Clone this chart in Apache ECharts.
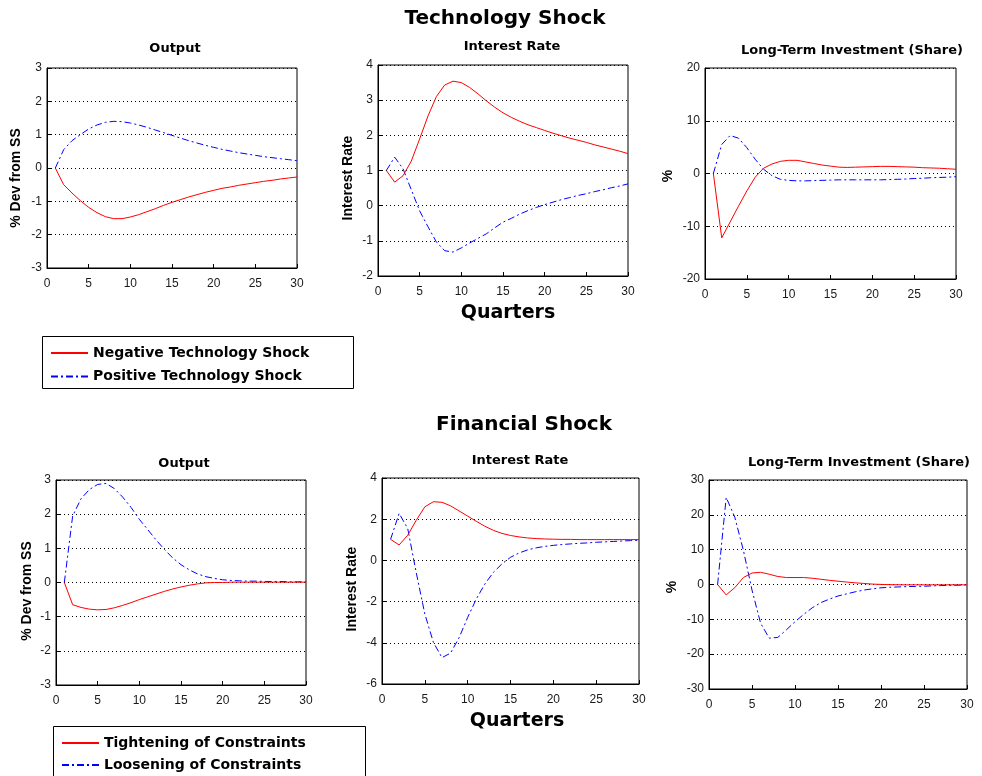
<!DOCTYPE html>
<html>
<head>
<meta charset="utf-8">
<script src="https://cdn.jsdelivr.net/npm/echarts@6/dist/echarts.min.js"></script>
<style>
html,body{margin:0;padding:0;background:#fff;}
#chart{width:982px;height:776px;}
</style>
</head>
<body>
<div id="chart"></div>
<script>
const quarters = [1,2,3,4,5,6,7,8,9,10,11,12,13,14,15,16,17,18,19,20,21,22,23,24,25,26,27,28,29,30];

// Technology shock
const techOutputNeg = [0,-0.5,-0.75,-0.98,-1.18,-1.34,-1.46,-1.52,-1.52,-1.47,-1.40,-1.31,-1.22,-1.12,-1.03,-0.95,-0.87,-0.80,-0.73,-0.67,-0.61,-0.57,-0.52,-0.48,-0.44,-0.40,-0.37,-0.33,-0.30,-0.27];
const techOutputPos = [0,0.55,0.82,1.0,1.17,1.29,1.37,1.40,1.39,1.35,1.29,1.22,1.14,1.06,0.98,0.90,0.82,0.75,0.68,0.62,0.56,0.51,0.46,0.42,0.38,0.34,0.31,0.28,0.25,0.22];
const techRateNeg = [1.0,0.67,0.85,1.27,1.9,2.55,3.1,3.43,3.54,3.5,3.36,3.18,2.98,2.8,2.64,2.51,2.4,2.3,2.22,2.14,2.06,1.99,1.92,1.86,1.8,1.73,1.67,1.61,1.55,1.48];
const techRatePos = [1.0,1.38,1.05,0.45,-0.15,-0.6,-1.03,-1.28,-1.32,-1.2,-1.06,-0.93,-0.8,-0.63,-0.47,-0.36,-0.24,-0.14,-0.05,0.03,0.1,0.17,0.23,0.29,0.34,0.4,0.45,0.51,0.56,0.62];
const techLtiNeg = [0,-12.2,-9.2,-6.2,-3.3,-0.7,1.0,1.8,2.3,2.5,2.5,2.2,1.9,1.6,1.4,1.2,1.15,1.2,1.25,1.3,1.35,1.35,1.3,1.25,1.2,1.1,1.05,1.0,0.9,0.8];
const techLtiPos = [0,5.5,7.2,6.7,4.9,2.7,0.8,-0.4,-1.1,-1.3,-1.4,-1.4,-1.35,-1.3,-1.25,-1.2,-1.2,-1.2,-1.2,-1.2,-1.2,-1.15,-1.1,-1.05,-0.95,-0.9,-0.8,-0.75,-0.7,-0.6];

// Financial shock
const finOutputTight = [0,-0.65,-0.73,-0.78,-0.8,-0.79,-0.74,-0.67,-0.59,-0.5,-0.42,-0.34,-0.26,-0.19,-0.13,-0.08,-0.04,-0.01,0,0,0.01,0.01,0.01,0.01,0.01,0.01,0.01,0.01,0.01,0.01];
const finOutputLoose = [0,1.95,2.45,2.72,2.87,2.9,2.75,2.5,2.2,1.85,1.55,1.25,0.97,0.72,0.52,0.37,0.25,0.17,0.12,0.08,0.06,0.05,0.04,0.04,0.03,0.03,0.03,0.02,0.02,0.02];
const finRateTight = [1.02,0.75,1.22,1.95,2.6,2.85,2.82,2.65,2.4,2.15,1.9,1.66,1.46,1.31,1.21,1.14,1.09,1.06,1.04,1.03,1.02,1.02,1.01,1.01,1.01,1.01,1.01,1.01,1.01,1.01];
const finRateLoose = [1.02,2.28,1.55,-0.6,-2.6,-3.98,-4.72,-4.5,-3.75,-2.77,-1.88,-1.15,-0.58,-0.17,0.15,0.36,0.51,0.61,0.68,0.73,0.77,0.8,0.83,0.85,0.88,0.9,0.92,0.94,0.96,0.98];
const finLtiTight = [0,-3.0,-0.9,2.0,3.3,3.5,2.95,2.3,2.0,2.0,2.0,1.8,1.5,1.2,0.95,0.7,0.48,0.3,0.12,0.02,-0.05,-0.08,-0.1,-0.1,-0.1,-0.1,-0.1,-0.1,-0.1,-0.1];
const finLtiLoose = [0,25,19.3,9.8,-1.6,-11.1,-15.4,-15.2,-13.0,-10.7,-8.6,-6.7,-5.2,-4.2,-3.3,-2.7,-2.1,-1.6,-1.25,-0.95,-0.8,-0.7,-0.6,-0.55,-0.5,-0.4,-0.3,-0.25,-0.2,-0.1];

// Axis ranges [min, max, interval]
const xRange = [0, 30, 5];
const yRanges = [[-3,3,1],[-2,4,1],[-20,20,10],[-3,3,1],[-6,4,2],[-30,30,10]];

const panelTitles = ['Output','Interest Rate','Long-Term Investment (Share)','Output','Interest Rate','Long-Term Investment (Share)'];
const yNames = ['% Dev from SS','Interest Rate','%','% Dev from SS','Interest Rate','%'];
const seriesNames = ['Negative Technology Shock','Positive Technology Shock','Tightening of Constraints','Loosening of Constraints'];

const panelData = [
  [techOutputNeg, techOutputPos],
  [techRateNeg, techRatePos],
  [techLtiNeg, techLtiPos],
  [finOutputTight, finOutputLoose],
  [finRateTight, finRateLoose],
  [finLtiTight, finLtiLoose]
];

// layout (pixels)
const grids = [
  {left:47, top:68, width:250, height:200},
  {left:378, top:65, width:250, height:211},
  {left:705, top:68, width:251, height:211},
  {left:56, top:480, width:250, height:205},
  {left:382, top:478, width:257, height:206},
  {left:709, top:480, width:258, height:209}
];
const titlePos = [[175,49],[512,47],[852,51],[184,464],[520,461],[859,463]];
const yNamePos = [[16,178],[348,178],[668,176],[27,591],[352,589],[672,587]];

const BOLD = 'DejaVu Sans';
const tickFont = {fontFamily:'Arial', fontSize:12, color:'#1a1a1a'};

const option = {
  animation:false,
  backgroundColor:'#fff',
  grid: grids.map(g => Object.assign({show:true, borderColor:'#000', borderWidth:1, backgroundColor:'transparent', containLabel:false}, g)),
  xAxis: grids.map((g,i) => ({
    type:'value', gridIndex:i, min:xRange[0], max:xRange[1], interval:xRange[2],
    axisLine:{show:true, onZero:false, lineStyle:{color:'#000', width:1}},
    axisTick:{show:true, inside:true, length:4, lineStyle:{color:'#000'}},
    axisLabel:Object.assign({margin:10, showMinLabel:true, showMaxLabel:true}, tickFont),
    splitLine:{show:false}
  })),
  yAxis: grids.map((g,i) => ({
    type:'value', gridIndex:i, min:yRanges[i][0], max:yRanges[i][1], interval:yRanges[i][2],
    axisLine:{show:true, onZero:false, lineStyle:{color:'#000', width:1}},
    axisTick:{show:true, inside:true, length:4, lineStyle:{color:'#000'}},
    axisLabel:Object.assign({margin:5, showMinLabel:true, showMaxLabel:true}, tickFont),
    splitLine:{show:true, lineStyle:{color:'#000', type:[1,3], width:1}}
  })),
  legend: [
    {orient:'vertical', left:50, top:346, itemWidth:37, itemHeight:14, itemGap:9.5, padding:0,
     selectedMode:false, data:[seriesNames[0], seriesNames[1]], itemStyle:{opacity:0},
     textStyle:{fontFamily:BOLD, fontWeight:'bold', fontSize:14, color:'#000'}},
    {orient:'vertical', left:61, top:736, itemWidth:37, itemHeight:14, itemGap:8, padding:0,
     selectedMode:false, data:[seriesNames[2], seriesNames[3]], itemStyle:{opacity:0},
     textStyle:{fontFamily:BOLD, fontWeight:'bold', fontSize:14, color:'#000'}}
  ],
  series: [],
  graphic: []
};

panelData.forEach((pair, i) => {
  const tech = i < 3;
  const names = tech ? [seriesNames[0], seriesNames[1]] : [seriesNames[2], seriesNames[3]];
  option.series.push({
    type:'line', name:names[1], xAxisIndex:i, yAxisIndex:i, symbol:'none', showSymbol:false,
    data: quarters.map((q,k) => [q, pair[1][k]]),
    lineStyle:{color:'#0000ff', width:1, type:[7,3,2,3]}, itemStyle:{color:'#0000ff'}, z:3
  });
  option.series.push({
    type:'line', name:names[0], xAxisIndex:i, yAxisIndex:i, symbol:'none', showSymbol:false,
    data: quarters.map((q,k) => [q, pair[0][k]]),
    lineStyle:{color:'#ff0000', width:1, type:'solid'}, itemStyle:{color:'#ff0000'}, z:4
  });
});

function txt(text, x, y, size, family, rot) {
  return {type:'text', x:x, y:y, rotation:rot || 0, z:10, silent:true,
    style:{text:text, fill:'#000', fontFamily:family || BOLD, fontWeight:'bold', fontSize:size,
      align:'center', verticalAlign:'middle', textAlign:'center', textVerticalAlign:'middle'}};
}

option.graphic.push(txt('Technology Shock', 505, 19, 20));
option.graphic.push(txt('Financial Shock', 524, 425, 20));
option.graphic.push(txt('Quarters', 508, 313, 19));
option.graphic.push(txt('Quarters', 517, 721, 19));
panelTitles.forEach((t,i) => option.graphic.push(txt(t, titlePos[i][0], titlePos[i][1], 13)));
yNames.forEach((t,i) => option.graphic.push(txt(t, yNamePos[i][0], yNamePos[i][1], 14, 'Arial', Math.PI/2)));

option.graphic.push({type:'rect', z:1, silent:true, shape:{x:42.5, y:336.5, width:311, height:52},
  style:{fill:'none', stroke:'#000', lineWidth:1}});
option.graphic.push({type:'rect', z:1, silent:true, shape:{x:53.5, y:726.5, width:312, height:60},
  style:{fill:'none', stroke:'#000', lineWidth:1}});

const chart = echarts.init(document.getElementById('chart'), null, {renderer:'canvas'});
chart.setOption(option);
</script>
</body>
</html>
